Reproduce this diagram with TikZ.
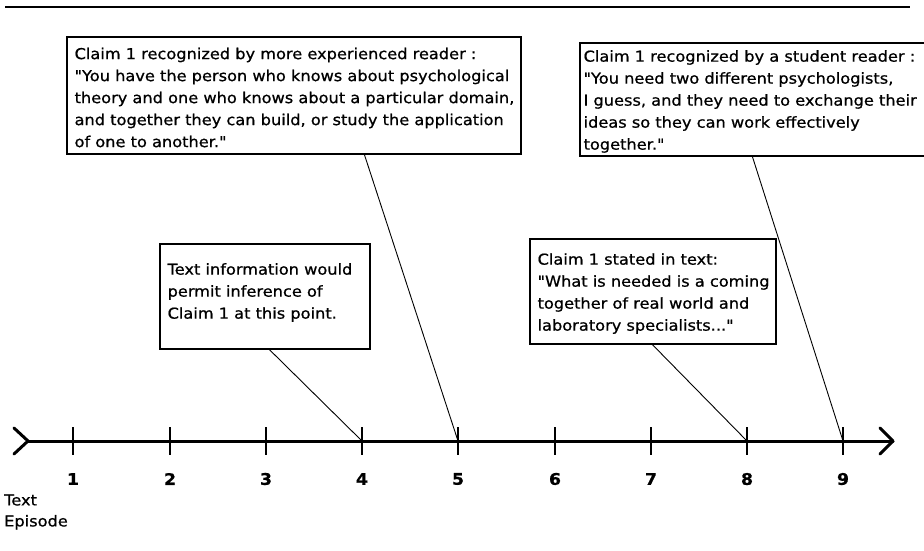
\documentclass[tikz,border=0pt]{standalone}
\usepackage{fontspec}
\setmainfont{DejaVu Sans}[Ligatures=TeXOff, FakeStretch=1.08, FakeBold=0.8]
\usetikzlibrary{calc}
\begin{document}
\begin{tikzpicture}[x=1pt,y=-1pt,
  box/.style={draw, line width=1.2pt, inner sep=0pt},
  txt/.style={align=left, inner sep=0pt, anchor=west, font=\fontsize{15}{22}\selectfont},
  conn/.style={line width=0.9pt},
  axisline/.style={line width=3pt, line cap=round, line join=round},
  tickmark/.style={line width=2pt},
  num/.style={font=\fontsize{16}{18}\selectfont\bfseries, inner sep=0pt}
]
\useasboundingbox (0,0) rectangle (924,551);
\draw[line width=1.5pt] (5,7) -- (910,7);

% boxes
\node[box, minimum width=454pt, minimum height=117pt] (b1) at (294,95.5) {};
\node[txt] (x1) at ($(b1.west)+(8,2)$) {Claim 1 recognized by more experienced reader :\\
"You have the person who knows about psychological\\
theory and one who knows about a particular domain,\\
and together they can build, or study the application\\
of one to another."};

\node[box, minimum width=360pt, minimum height=113pt] (b2) at (760,99.5) {};
\node[txt] (x2) at ($(b2.west)+(4,2)$) {Claim 1 recognized by a student reader :\\
"You need two different psychologists,\\
I guess, and they need to exchange their\\
ideas so they can work effectively\\
together."};

\node[box, minimum width=210pt, minimum height=105pt] (b3) at (265,296.5) {};
\node[txt] (x3) at ($(b3.west)+(8,-4)$) {Text information would\\
permit inference of\\
Claim 1 at this point.};

\node[box, minimum width=246pt, minimum height=105pt] (b4) at (653,291.5) {};
\node[txt] (x4) at ($(b4.west)+(8,2)$) {Claim 1 stated in text:\\
"What is needed is a coming\\
together of real world and\\
laboratory specialists..."};

% axis
\coordinate (L) at (28,441);
\coordinate (R) at (893,441);
\draw[axisline] (L) -- (R);
\draw[axisline] (14,428) -- (L) -- (14,454);
\draw[axisline] (880,428) -- (R) -- (880,454);

\foreach \i/\xx in {1/73,2/170,3/266,4/362,5/458,6/555,7/651,8/747,9/843}{
  \coordinate (t\i) at (\xx,441);
  \draw[tickmark] (\xx,427) -- (\xx,455);
  \node[num] (n\i) at (\xx,479) {\i};
}

\node[txt, font=\fontsize{15}{21}\selectfont] (ep) at (4,512) {Text\\Episode};

% connectors
\draw[conn] ($(b1.south west)+(298,0)$) -- (t5);
\draw[conn] ($(b2.south west)+(173,0)$) -- (t9);
\draw[conn] ($(b3.south west)+(110,0)$) -- (t4);
\draw[conn] ($(b4.south west)+(123,0)$) -- (t8);
\end{tikzpicture}
\end{document}
